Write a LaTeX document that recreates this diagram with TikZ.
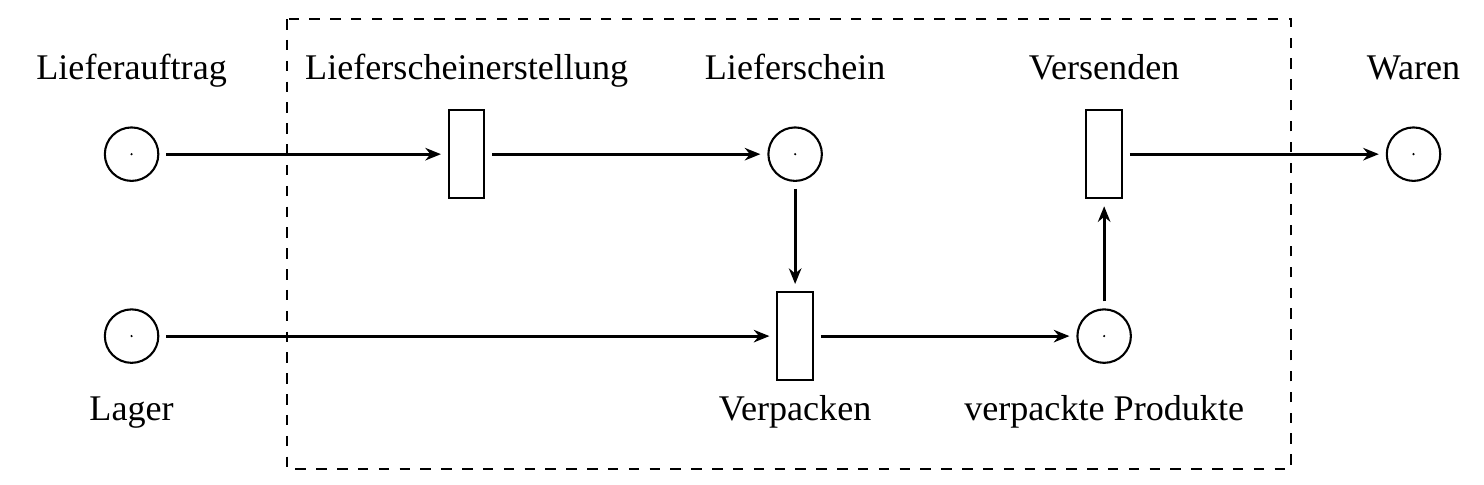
\documentclass[tikz,border=0pt]{standalone}
\IfFileExists{t1qpl.fd}{\IfFileExists{ec-qplr.tfm}{\def\palok{qpl}}{}}{}
\IfFileExists{t1ppl.fd}{\IfFileExists{pplr8t.tfm}{\def\palok{ppl}}{}}{}
\ifdefined\palok
  \usepackage[T1]{fontenc}
  \renewcommand{\rmdefault}{\palok}
\else
  \usepackage{fontspec}
  \setmainfont[Scale=1.04]{Liberation Serif}
\fi
\usetikzlibrary{arrows.meta, positioning}

\begin{document}
\begin{tikzpicture}[
    on grid,
    place/.style={circle, draw, semithick, minimum size=15.4pt, inner sep=0pt,
      path picture={\fill (path picture bounding box.center) circle (0.35pt);}},
    trans/.style={rectangle, draw, semithick, minimum width=10.2pt,
      minimum height=25.4pt, inner sep=0pt},
    lbl/.style={font=\normalsize, inner sep=0pt},
    arr/.style={-{Stealth[length=4.5pt, width=3.6pt]}, thick,
      shorten >=2pt, shorten <=2pt}
  ]
    \useasboundingbox (-37.9pt,44.4pt) rectangle (389.5pt,-95pt);

    % places and transitions
    \node[place] (auftrag) at (0,0) {};
    \node[trans, right=96.5pt of auftrag] (erstellung) {};
    \node[place, right=94.6pt of erstellung] (schein) {};
    \node[trans, below=52.4pt of schein] (verpacken) {};
    \node[place, right=89pt of verpacken] (produkte) {};
    \node[trans, above=52.4pt of produkte] (versenden) {};
    \node[place, right=89.1pt of versenden] (waren) {};
    \node[place, below=52.4pt of auftrag] (lager) {};

    % labels
    \node[lbl, above=21.6pt of auftrag.center, anchor=base] (lauftrag) {Lieferauftrag};
    \node[lbl, above=21.6pt of erstellung.center, anchor=base] (lerstellung) {Lieferscheinerstellung};
    \node[lbl, above=21.6pt of schein.center, anchor=base] (lschein) {Lieferschein};
    \node[lbl, above=21.6pt of versenden.center, anchor=base] (lversenden) {Versenden};
    \node[lbl, above=21.6pt of waren.center, anchor=base] (lwaren) {Waren};
    \node[lbl, below=24.2pt of lager.center, anchor=base] (llager) {Lager};
    \node[lbl, below=24.2pt of verpacken.center, anchor=base] (lverpacken) {Verpacken};
    \node[lbl, below=24.2pt of produkte.center, anchor=base] (lprodukte) {verpackte Produkte};

    % system boundary
    \draw[dashed, semithick] (44.8pt,38.9pt) rectangle (333.9pt,-90.7pt);

    \draw[arr] (auftrag) -- (erstellung);
    \draw[arr] (erstellung) -- (schein);
    \draw[arr] (schein) -- (verpacken);
    \draw[arr] (lager) -- (verpacken);
    \draw[arr] (verpacken) -- (produkte);
    \draw[arr] (produkte) -- (versenden);
    \draw[arr] (versenden) -- (waren);
\end{tikzpicture}
\end{document}
